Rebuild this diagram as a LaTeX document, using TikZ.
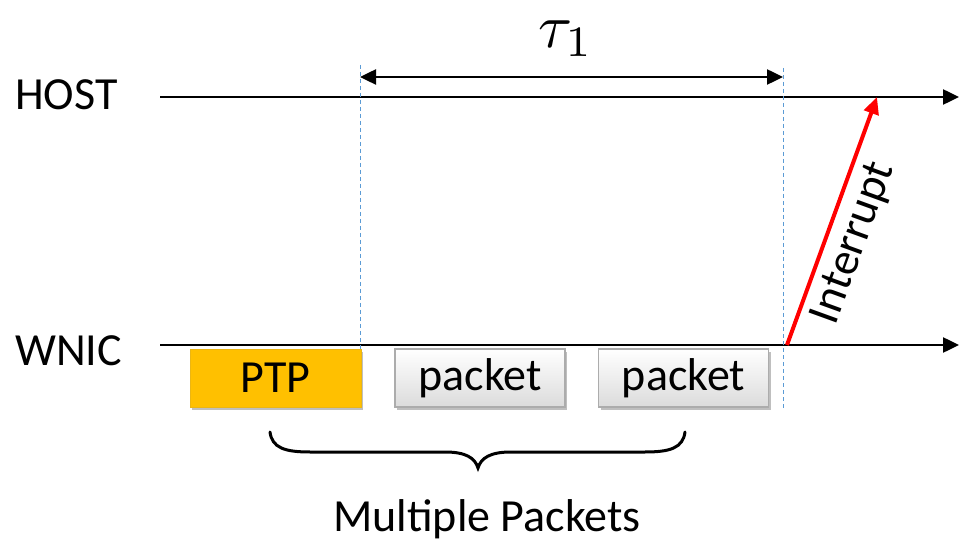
\documentclass[tikz,border=0pt]{standalone}
\usepackage{fontspec}
\setmainfont{Carlito}
\usetikzlibrary{arrows.meta,shadows}
\definecolor{ptporange}{RGB}{255,192,0}
\definecolor{dashblue}{RGB}{91,155,213}
\begin{document}
\begin{tikzpicture}[x=1pt,y=-1pt,
  lbl/.style={font=\fontsize{46}{50}\selectfont, inner sep=0pt},
  timeline/.style={line width=2.5pt, -{Triangle[length=16pt,width=15pt]}},
  guide/.style={dashblue, line width=1pt, dash pattern=on 4pt off 3pt},
  boxshadow/.style={drop shadow={shadow xshift=2pt, shadow yshift=-2.5pt, opacity=0.25, fill=black}},
  pkt/.style={draw=gray!65, line width=1.2pt, top color=white, bottom color=gray!28,
    minimum width=170pt, minimum height=58pt, inner sep=0pt, font=\fontsize{46}{50}\selectfont, boxshadow},
  ptpbox/.style={draw=ptporange!85!gray, line width=1pt, fill=ptporange,
    minimum width=171pt, minimum height=58pt, inner sep=0pt, font=\fontsize{46}{50}\selectfont, boxshadow},
  irq/.style={red, line width=4pt, -{Triangle[length=17pt,width=15pt]}}
]
\useasboundingbox (0,0) rectangle (959,540);

% labels
\node[lbl, anchor=base west] (host) at (15,110) {HOST};
\node[lbl, anchor=base west] (wnic) at (15,365) {WNIC};

% timelines
\coordinate (hs) at (160,97);
\coordinate (he) at (959,97);
\coordinate (ws) at (160,345);
\coordinate (we) at (959,345);
\draw[timeline] (hs) -- (he);
\draw[timeline] (ws) -- (we);

% guides
\coordinate (g1t) at (360,65);
\coordinate (g1b) at (360,350);
\coordinate (g2t) at (783,68);
\coordinate (g2b) at (783,410);
\draw[guide] (g1t) -- (g1b);
\draw[guide] (g2t) -- (g2b);

% tau arrow
\coordinate (ta) at (360,77);
\coordinate (tb) at (783,77);
\draw[line width=2.5pt, {Triangle[length=16pt,width=15pt]}-{Triangle[length=16pt,width=15pt]}] (ta) -- (tb);
\node[inner sep=0pt, scale=6.2] (tau) at (566,39) {$\tau_1$};

% boxes
\node[ptpbox] (ptp) at (275.5,378) {PTP};
\node[pkt] (p1) at (480,378) {packet};
\node[pkt] (p2) at (683.5,378) {packet};

% interrupt
\coordinate (ia) at (787,345);
\coordinate (ib) at (877,97);
\draw[irq] (ia) -- (ib) node[pos=0.45, sloped, below=8pt, lbl, text=black] (irqlbl) {Interrupt};

% brace
\draw[line width=3pt, line cap=round] (270,432) .. controls (272,448) and (285,452) .. (310,452)
  -- (445,452) .. controls (466,452) and (475,458) .. (478,468)
  .. controls (481,458) and (490,452) .. (511,452)
  -- (645,452) .. controls (670,452) and (683,448) .. (685,432);

\node[lbl, anchor=base] (mp) at (487,531) {Multiple Packets};
\end{tikzpicture}
\end{document}
